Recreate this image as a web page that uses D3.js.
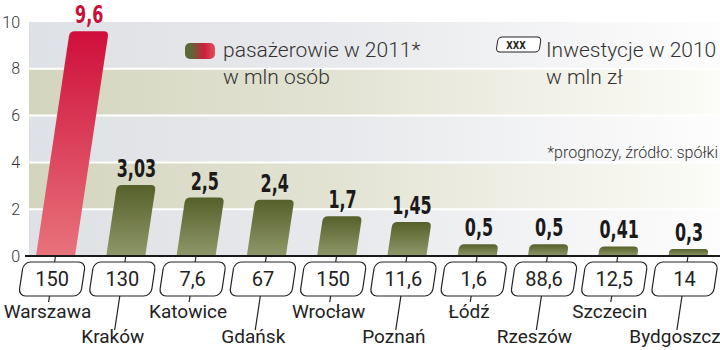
<!DOCTYPE html>
<html lang="pl">
<head>
    <meta charset="UTF-8">
    <title>Pasażerowie lotnisk</title>
    <script src="https://d3js.org/d3.v7.min.js"></script>
    <style>
        body { margin: 0; background: #fff; }
        svg { display: block; }
        .tick text { font-family: Roboto, sans-serif; font-size: 16px; fill: #333; font-weight: 300; }
        .val { font-family: "DejaVu Sans Condensed", sans-serif; font-weight: bold; font-size: 24px; fill: #1a1a1a; text-anchor: middle; }
        .inv { font-family: Roboto, sans-serif; font-size: 20px; fill: #222; text-anchor: middle; }
        .city { font-family: Roboto, sans-serif; font-size: 19px; fill: #222; text-anchor: middle; }
        .leg { font-family: Roboto, sans-serif; font-size: 21px; fill: #333; font-weight: 300; }
        .note { font-family: Roboto, sans-serif; font-size: 16px; fill: #333; font-weight: 300; text-anchor: end; }
    </style>
</head>
<body>
<script>
    const width = 720;
    const height = 350;

    // data
    const cities = ["Warszawa", "Kraków", "Katowice", "Gdańsk", "Wrocław",
                    "Poznań", "Łódź", "Rzeszów", "Szczecin", "Bydgoszcz"];
    const passengers = [9.6, 3.03, 2.5, 2.4, 1.7, 1.45, 0.5, 0.5, 0.41, 0.3];   // mln osób, 2011
    const investments = [150, 130, 7.6, 67, 150, 11.6, 1.6, 88.6, 12.5, 14];   // mln zł, 2010
    const yTicks = [0, 2, 4, 6, 8, 10];

    const data = cities.map((c, i) => ({city: c, i: i, pas: passengers[i], inv: investments[i]}));
    const fmt = v => String(v).replace(".", ",");

    const slant = 0.15;
    const skewDeg = -Math.atan(slant) * 180 / Math.PI;

    const svg = d3.select("body").append("svg")
            .attr("width", width).attr("height", height);

    const x = d3.scalePoint().domain(cities).range([55.5, 688]);
    const y = d3.scaleLinear().domain([0, 10]).range([256, 22]);

    const defs = svg.append("defs");

    function hGrad(id, stops) {
        const g = defs.append("linearGradient").attr("id", id)
            .attr("gradientUnits", "userSpaceOnUse")
            .attr("x1", 29).attr("x2", width).attr("y1", 0).attr("y2", 0);
        stops.forEach(s => g.append("stop").attr("offset", s[0]).attr("stop-color", s[1]));
    }
    hGrad("bandGray", [[0, "#dee1e5"], [0.45, "#e8e9ec"], [1, "#fdfdfd"]]);
    hGrad("bandBeige", [[0, "#d4d5be"], [0.45, "#e3e3d4"], [1, "#fcfcf8"]]);

    function vGrad(id, top, bottom) {
        const g = defs.append("linearGradient").attr("id", id)
            .attr("x1", 0).attr("x2", 0).attr("y1", 0).attr("y2", 1);
        g.append("stop").attr("offset", 0).attr("stop-color", top);
        g.append("stop").attr("offset", 1).attr("stop-color", bottom);
    }
    vGrad("barRed", "#cf0f3b", "#e8737b");
    vGrad("barOlive", "#56602a", "#8f9869");

    const lg = defs.append("linearGradient").attr("id", "legGrad");
    lg.append("stop").attr("offset", 0.2).attr("stop-color", "#5b6835");
    lg.append("stop").attr("offset", 0.65).attr("stop-color", "#cf1f3d");
    lg.append("stop").attr("offset", 1).attr("stop-color", "#e0505c");

    // background bands
    const bands = d3.range(0, 10, 2);
    svg.selectAll("rect.band")
        .data(bands)
        .enter()
        .append("rect")
        .attr("class", "band")
        .attr("x", 29)
        .attr("width", width - 29)
        .attr("y", d => y(d + 2))
        .attr("height", d => y(d) - y(d + 2))
        .attr("fill", d => (d / 2) % 2 === 0 ? "url(#bandGray)" : "url(#bandBeige)");

    svg.selectAll("line.grid")
        .data([2, 4, 6, 8])
        .enter()
        .append("line")
        .attr("x1", 29).attr("x2", width)
        .attr("y1", d => y(d)).attr("y2", d => y(d))
        .attr("stroke", "#fff").attr("stroke-width", 2);

    // y axis
    svg.append("g")
        .attr("transform", "translate(20,0)")
        .call(d3.axisLeft(y).tickValues(yTicks).tickSize(0).tickPadding(0))
        .call(g => g.select(".domain").remove());

    // bars
    const barW = 39;
    function barPath(h) {
        const r = Math.min(5, h / 2), w = barW / 2;
        return `M${-w},0 V${-h + r} Q${-w},${-h} ${-w + r},${-h} H${w - r} Q${w},${-h} ${w},${-h + r} V0 Z`;
    }

    svg.selectAll("path.bar")
        .data(data)
        .enter()
        .append("path")
        .attr("class", "bar")
        .attr("transform", d => `translate(${x(d.city)},${y(0)}) skewX(${skewDeg})`)
        .attr("d", d => barPath(y(0) - y(d.pas)))
        .attr("fill", d => d.i === 0 ? "url(#barRed)" : "url(#barOlive)");

    // value labels, squeezed horizontally to look condensed
    svg.selectAll("text.val")
        .data(data)
        .enter()
        .append("text")
        .attr("class", "val")
        .attr("transform", d => `translate(${x(d.city) + slant * (y(0) - y(d.pas))},${y(d.pas) - 8}) scale(0.74,1)`)
        .style("fill", d => d.i === 0 ? "#c8103a" : null)
        .text(d => fmt(d.pas));

    // baseline
    svg.append("line")
        .attr("x1", 25).attr("x2", width)
        .attr("y1", y(0)).attr("y2", y(0))
        .attr("stroke", "#1a1a1a").attr("stroke-width", 2);

    // investment boxes + leader lines
    const boxTop = 6, boxH = 34, boxW = 62;
    const cityBase = [318, 343];

    const cell = svg.selectAll("g.cell")
        .data(data)
        .enter()
        .append("g")
        .attr("class", "cell")
        .attr("transform", d => `translate(${x(d.city)},${y(0)}) skewX(${skewDeg})`);

    cell.append("line")
        .attr("y1", 0).attr("y2", boxTop)
        .attr("stroke", "#222").attr("stroke-width", 1.2);

    cell.append("rect")
        .attr("x", -boxW / 2).attr("y", boxTop)
        .attr("width", boxW).attr("height", boxH)
        .attr("rx", 7)
        .attr("fill", "#fff").attr("stroke", "#222").attr("stroke-width", 1.2);

    cell.append("line")
        .attr("y1", boxTop + boxH)
        .attr("y2", d => d.i % 2 === 0 ? 46 : 74)
        .attr("stroke", "#222").attr("stroke-width", 1.2);

    svg.selectAll("text.inv")
        .data(data)
        .enter()
        .append("text")
        .attr("class", "inv")
        .attr("x", d => x(d.city) - slant * (boxTop + boxH / 2))
        .attr("y", y(0) + 30)
        .text(d => fmt(d.inv));

    svg.selectAll("text.city")
        .data(data)
        .enter()
        .append("text")
        .attr("class", "city")
        .attr("x", d => x(d.city) - (d.i % 2 === 0 ? 8 : 13))
        .attr("y", d => cityBase[d.i % 2])
        .text(d => d.city);

    // legend
    svg.append("rect")
        .attr("x", 185).attr("y", 43).attr("width", 30).attr("height", 16)
        .attr("rx", 5).attr("fill", "url(#legGrad)");
    svg.append("text").attr("class", "leg").attr("x", 223).attr("y", 57).text("pasażerowie w 2011*");
    svg.append("text").attr("class", "leg").attr("x", 223).attr("y", 84).text("w mln osób");

    svg.append("g")
        .attr("transform", `translate(517,52) skewX(${skewDeg})`)
        .append("rect")
        .attr("x", -21).attr("y", -15).attr("width", 43).attr("height", 15)
        .attr("rx", 4).attr("fill", "#fff").attr("stroke", "#222").attr("stroke-width", 1);
    svg.append("text")
        .attr("transform", "translate(516,49) scale(0.85,1)")
        .attr("text-anchor", "middle")
        .style("font-family", "'DejaVu Sans Condensed', sans-serif")
        .style("font-weight", "bold").style("font-size", "11px").style("fill", "#222")
        .text("XXX");
    svg.append("text").attr("class", "leg").attr("x", 546).attr("y", 57).text("Inwestycje w 2010");
    svg.append("text").attr("class", "leg").attr("x", 546).attr("y", 84).text("w mln zł");

    svg.append("text").attr("class", "note").attr("x", 718).attr("y", 158).text("*prognozy, źródło: spółki");
</script>
</body>
</html>
